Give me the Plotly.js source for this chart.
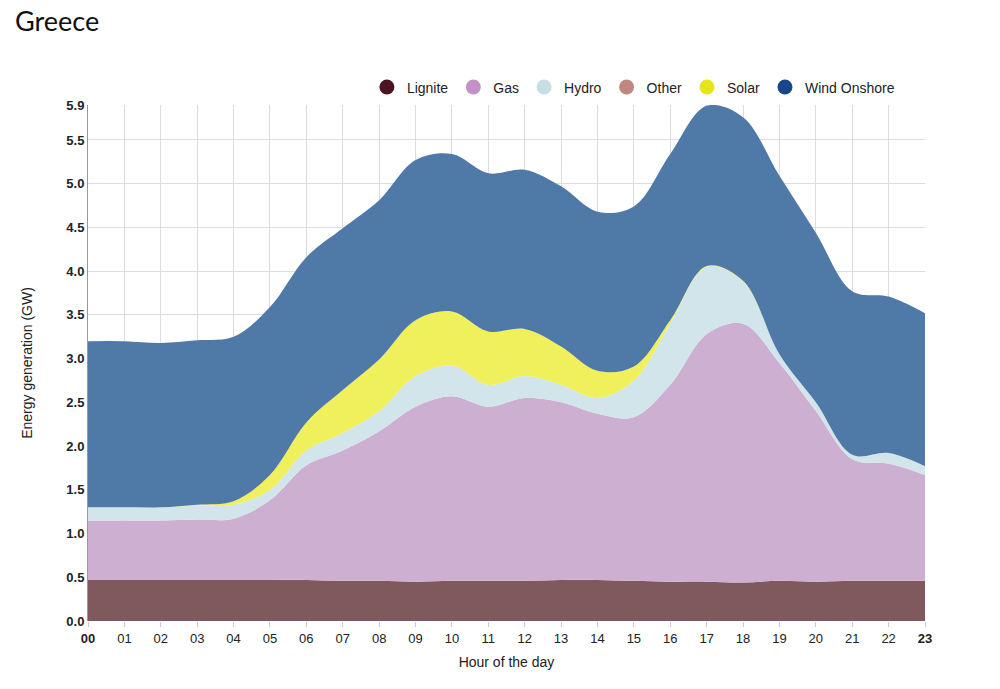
<!DOCTYPE html>
<html>
<head>
<meta charset="utf-8">
<script src="https://cdn.plot.ly/plotly-3.0.1.min.js"></script>
<style>body{margin:0;background:#fff}#chart{width:1000px;height:689px}</style>
</head>
<body>
<div id="chart"></div>
<script>
const hours = ['00','01','02','03','04','05','06','07','08','09','10','11','12','13','14','15','16','17','18','19','20','21','22','23'];

const lignite = [0.47,0.47,0.47,0.47,0.47,0.47,0.47,0.46,0.46,0.45,0.46,0.46,0.46,0.47,0.47,0.46,0.45,0.45,0.44,0.46,0.45,0.46,0.46,0.46];
const gas = [0.68,0.68,0.68,0.69,0.70,0.91,1.31,1.49,1.71,2.00,2.11,1.99,2.09,2.03,1.90,1.87,2.25,2.83,2.96,2.49,1.95,1.39,1.34,1.21];
const hydro = [0.15,0.15,0.15,0.16,0.16,0.12,0.17,0.20,0.23,0.35,0.35,0.25,0.25,0.20,0.18,0.42,0.70,0.77,0.48,0.10,0.10,0.05,0.12,0.10];
const other = [0,0,0,0,0,0,0,0,0,0,0,0,0,0,0,0,0,0,0,0,0,0,0,0];
const solar = [0,0,0,0.01,0.04,0.17,0.32,0.49,0.59,0.64,0.62,0.61,0.54,0.44,0.31,0.16,0.04,0.01,0.01,0,0,0,0,0];
const wind = [1.90,1.90,1.88,1.88,1.88,1.92,1.89,1.85,1.82,1.83,1.80,1.81,1.82,1.83,1.82,1.83,1.90,1.83,1.87,2.04,1.94,1.87,1.79,1.75];

const seriesNames = ['Lignite','Gas','Hydro','Other','Solar','Wind Onshore'];
const seriesData = [lignite, gas, hydro, other, solar, wind];
const markerColors = ['#4a1420','#c490c8','#c5dfe5','#c0877f','#e5e51a','#17468a'];
const fillColors = ['#7f595e','#cdb0d1','#d2e5ea','#c0877f','#f0ef5c','#4f7aa8'];

const traces = seriesNames.map((name, i) => ({
    x: hours,
    y: seriesData[i],
    name: name,
    type: 'scatter',
    mode: 'lines',
    stackgroup: 'one',
    showlegend: false,
    line: { shape: 'spline', width: 0, color: fillColors[i] },
    fillcolor: fillColors[i],
    hoverinfo: 'skip'
}));

// legend entries with round markers
seriesNames.forEach((name, i) => {
    traces.push({
        x: [null], y: [null],
        name: name,
        type: 'scatter',
        mode: 'markers',
        marker: { color: markerColors[i], size: 15, symbol: 'circle' }
    });
});

const yTicks = [0,0.5,1,1.5,2,2.5,3,3.5,4,4.5,5,5.5,5.9];

const layout = {
    title: { text: 'Greece', x: 0.015, xanchor: 'left', y: 0.982, font: { size: 27, family: 'Lato, sans-serif', color: '#111' } },
    font: { family: '"Liberation Sans", Arial, sans-serif', size: 13, color: '#222' },
    margin: { l: 88, r: 75, t: 105, b: 68 },
    plot_bgcolor: '#fff',
    paper_bgcolor: '#fff',
    showlegend: true,
    legend: { orientation: 'h', x: 0.97, xanchor: 'right', y: 1.034, yanchor: 'middle', font: { size: 14 }, traceorder: 'normal', itemwidth: 30 },
    xaxis: {
        type: 'category',
        range: [0, 23],
        tickvals: hours,
        ticktext: hours.map((h, i) => (i === 0 || i === hours.length - 1) ? '<b>' + h + '</b>' : h),
        showgrid: true, gridcolor: '#ddd',
        ticks: 'outside', ticklen: 5, tickcolor: '#ccc',
        title: { text: 'Hour of the day', font: { size: 14 }, standoff: 12 },
        tickfont: { size: 13 },
        zeroline: false
    },
    yaxis: {
        range: [0, 5.9],
        tickvals: yTicks,
        ticktext: yTicks.map(v => '<b>' + v.toFixed(1) + '</b>'),
        showgrid: true, gridcolor: '#ddd',
        showline: true, linecolor: '#999',
        title: { text: 'Energy generation (GW)', font: { size: 14 }, standoff: 30 },
        tickfont: { size: 13 },
        zeroline: false
    }
};

Plotly.newPlot('chart', traces, layout, { displayModeBar: false });
</script>
</body>
</html>
